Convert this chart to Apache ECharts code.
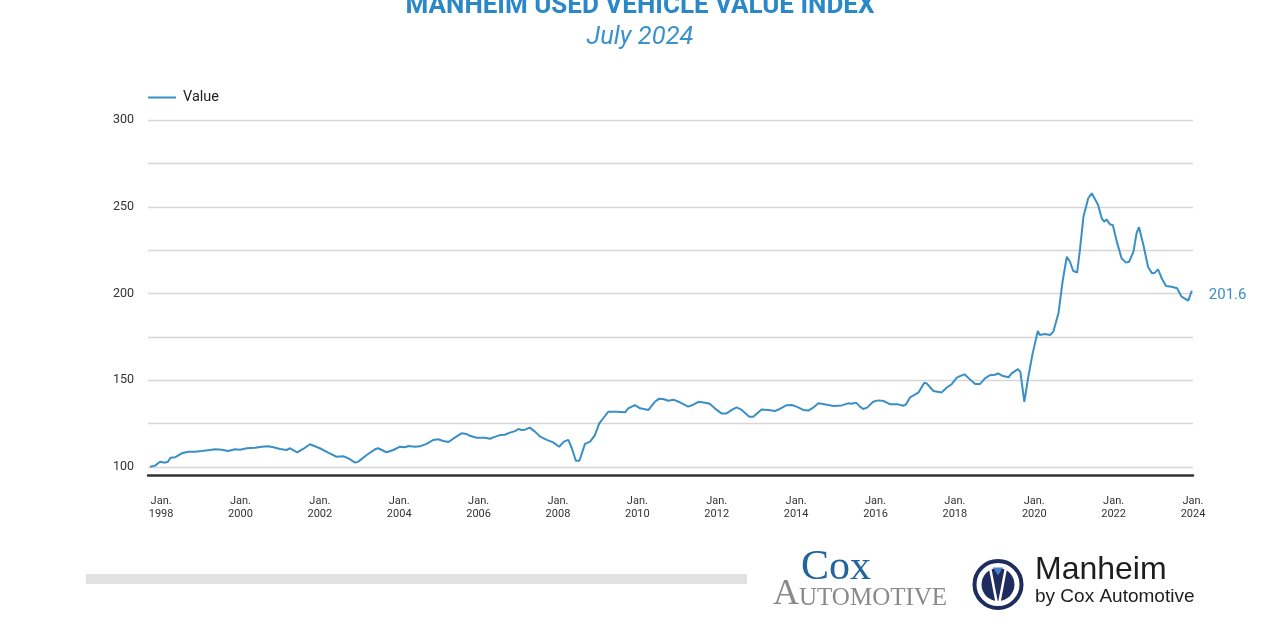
<!DOCTYPE html>
<html>
<head>
<meta charset="utf-8">
<script src="https://cdn.jsdelivr.net/npm/echarts@6/dist/echarts.min.js"></script>
<style>
html,body{margin:0;padding:0;background:#fff;}
#chart{width:1280px;height:640px;}
</style>
</head>
<body>
<div id="chart"></div>
<script>
// ---- data (x = position in years on the chart's time axis) ----
const years = [1997.72,1997.85,1997.97,1998.10,1998.17,1998.24,1998.35,1998.52,1998.69,1998.85,1998.90,1999.02,1999.23,1999.36,1999.53,1999.69,1999.86,1999.99,2000.16,2000.37,2000.53,2000.70,2000.83,2001.00,2001.16,2001.25,2001.43,2001.58,2001.75,2002.00,2002.21,2002.42,2002.59,2002.72,2002.89,2002.97,2003.18,2003.39,2003.47,2003.68,2003.85,2004.02,2004.15,2004.23,2004.40,2004.52,2004.69,2004.86,2004.98,2005.11,2005.24,2005.40,2005.57,2005.70,2005.78,2005.95,2006.16,2006.29,2006.37,2006.54,2006.66,2006.79,2006.92,2007.00,2007.09,2007.17,2007.29,2007.42,2007.55,2007.72,2007.88,2008.03,2008.15,2008.26,2008.35,2008.45,2008.54,2008.68,2008.81,2008.93,2009.04,2009.14,2009.27,2009.48,2009.69,2009.77,2009.94,2010.07,2010.28,2010.44,2010.55,2010.65,2010.78,2010.91,2011.07,2011.28,2011.41,2011.54,2011.75,2011.83,2012.00,2012.12,2012.25,2012.38,2012.50,2012.63,2012.82,2012.92,2013.13,2013.30,2013.47,2013.59,2013.76,2013.89,2014.01,2014.18,2014.31,2014.43,2014.56,2014.68,2014.94,2015.15,2015.31,2015.40,2015.51,2015.61,2015.69,2015.79,2015.94,2016.07,2016.21,2016.37,2016.57,2016.70,2016.77,2016.87,2017.08,2017.23,2017.29,2017.46,2017.67,2017.79,2017.92,2018.05,2018.13,2018.24,2018.38,2018.51,2018.63,2018.76,2018.88,2019.01,2019.09,2019.19,2019.35,2019.43,2019.59,2019.65,2019.75,2019.85,2019.96,2020.09,2020.14,2020.27,2020.40,2020.48,2020.61,2020.72,2020.82,2020.90,2020.98,2021.08,2021.15,2021.24,2021.36,2021.45,2021.50,2021.61,2021.70,2021.76,2021.82,2021.91,2021.98,2022.08,2022.20,2022.31,2022.39,2022.50,2022.58,2022.64,2022.75,2022.87,2022.97,2023.04,2023.12,2023.21,2023.32,2023.46,2023.60,2023.71,2023.88,2023.97];
const values = [100.2,100.8,103.0,102.5,103.0,105.4,105.6,107.9,108.8,108.8,107.9,109.2,109.8,110.2,110.0,109.2,110.2,110.0,110.8,111.1,111.7,111.9,111.4,110.4,109.8,110.8,108.5,110.4,113.1,110.8,108.3,105.9,106.2,105.0,102.5,103.1,106.9,110.2,110.8,108.5,109.8,111.7,111.4,112.1,111.7,111.9,113.3,115.6,116.0,115.0,114.4,116.9,119.4,119.0,118.0,116.9,116.9,116.3,117.1,118.4,118.6,119.8,120.7,121.9,121.3,121.5,122.7,120.4,117.5,115.6,114.2,111.7,114.6,115.6,110.8,103.6,103.6,113.3,114.6,118.4,125.2,128.1,131.9,131.9,131.5,133.8,135.7,133.8,132.9,137.6,139.4,139.2,138.2,138.8,137.3,134.8,135.9,137.6,136.9,136.3,132.9,130.9,130.9,132.9,134.4,132.9,129.0,129.0,133.2,132.9,132.3,133.5,135.6,135.7,134.8,132.9,132.5,134.2,136.7,136.3,135.2,135.5,136.7,136.5,137.1,134.8,133.4,134.2,137.6,138.4,138.0,136.1,136.1,135.3,136.1,140.1,142.8,148.6,148.2,143.8,143.0,145.7,147.7,151.5,152.4,153.4,150.5,147.8,147.8,151.1,152.9,153.2,153.9,152.6,151.7,154.0,156.4,154.8,137.5,152.0,165.5,178.4,176.1,176.7,176.1,178.0,188.6,207.8,221.2,218.3,213.1,212.0,225.0,244.3,254.9,257.8,257.4,251.0,243.3,241.4,242.7,239.8,239.5,229.9,220.3,217.8,218.3,224.1,235.0,238.2,228.0,215.1,211.6,212.0,213.9,208.8,204.3,203.9,203.0,198.2,195.9,201.6];
const tickYears = [1998,2000,2002,2004,2006,2008,2010,2012,2014,2016,2018,2020,2022,2024];
const seriesName = 'Value';
const titleText = 'MANHEIM USED VEHICLE VALUE INDEX';
const subtitleText = 'July 2024';

const lineColor = '#3a8fc5';
const navy = '#1e2c5e';
const points = years.map((y, i) => [y, values[i]]);

const chart = echarts.init(document.getElementById('chart'), null, {renderer: 'canvas'});
const cx = 998, cy = 584.5;
chart.setOption({
  animation: false,
  backgroundColor: '#ffffff',
  textStyle: {fontFamily: 'Roboto'},
  grid: {left: 148, right: 87, top: 120, bottom: 173, containLabel: false, outerBoundsMode: 'none'},
  legend: {
    show: true, left: 148, top: 90, padding: 0, itemWidth: 28, itemHeight: 2, itemGap: 10,
    icon: 'rect',
    textStyle: {fontSize: 14.5, color: '#222', fontFamily: 'Roboto', padding: [0, 0, 0, 2]},
    data: [seriesName]
  },
  xAxis: {
    type: 'value', min: 1997.67, max: 2024.0, position: 'bottom', offset: 8,
    axisLine: {show: true, lineStyle: {color: '#333', width: 2.5}},
    axisTick: {show: false},
    splitLine: {show: false},
    axisLabel: {
      customValues: tickYears, margin: 20, fontSize: 11, lineHeight: 12.5, color: '#333',
      fontFamily: 'Roboto', align: 'center',
      formatter: v => 'Jan.\n' + Math.round(v)
    }
  },
  yAxis: {
    type: 'value', min: 100, max: 300, interval: 25,
    axisLine: {show: false}, axisTick: {show: false},
    splitLine: {show: true, lineStyle: {color: '#d6d6d6', width: 1.3}},
    axisLabel: {
      margin: 14, fontSize: 12.5, color: '#333', fontFamily: 'Roboto',
      formatter: v => (v % 50 === 0 ? String(v) : '')
    }
  },
  series: [{
    name: seriesName, type: 'line', data: points, symbol: 'none', showSymbol: false,
    lineStyle: {color: lineColor, width: 2}, itemStyle: {color: lineColor},
    endLabel: {
      show: true, distance: 17, offset: [0, 5], color: lineColor, fontSize: 15, fontFamily: 'Roboto',
      formatter: p => p.value[1].toFixed(1)
    }
  }],
  graphic: [
    {type: 'text', x: 640, y: 6.8, style: {text: titleText, align: 'center', verticalAlign: 'middle', fill: '#2a88c8', font: 'bold 26px Roboto'}},
    {type: 'text', x: 640, y: 37.5, style: {text: subtitleText, align: 'center', verticalAlign: 'middle', fill: '#3a92cc', font: 'italic 25.5px Roboto'}},
    {type: 'rect', shape: {x: 86, y: 574, width: 661, height: 10}, style: {fill: '#e1e1e1'}},
    {type: 'text', x: 801, y: 568, style: {text: 'Cox', align: 'left', verticalAlign: 'middle', fill: '#24649d', font: '42px "Liberation Serif"'}},
    {type: 'text', x: 773, y: 595, style: {text: 'A', align: 'left', verticalAlign: 'middle', fill: '#8a8a8a', font: '36px "Liberation Serif"'}},
    {type: 'text', x: 799, y: 598.7, style: {text: 'UTOMOTIVE', align: 'left', verticalAlign: 'middle', fill: '#8a8a8a', font: '25px "Liberation Serif"'}},
    {type: 'circle', shape: {cx: cx, cy: cy, r: 23.5}, style: {fill: '#fff', stroke: navy, lineWidth: 4}},
    {type: 'circle', shape: {cx: cx, cy: cy, r: 16.5}, style: {fill: navy}},
    {type: 'polyline', shape: {points: [[cx - 8, cy - 17], [cx - 1.5, cy + 17]]}, style: {stroke: '#fff', lineWidth: 2.5}},
    {type: 'polyline', shape: {points: [[cx + 8, cy - 17], [cx + 1.5, cy + 17]]}, style: {stroke: '#fff', lineWidth: 2.5}},
    {type: 'polygon', shape: {points: [[cx - 5, cy - 17], [cx + 5, cy - 17], [cx, cy - 9]]}, style: {fill: '#4a7fc0'}},
    {type: 'text', x: 1035, y: 570, style: {text: 'Manheim', align: 'left', verticalAlign: 'middle', fill: '#1d1d1d', font: '32px "Liberation Sans"'}},
    {type: 'text', x: 1035, y: 597, style: {text: 'by Cox Automotive', align: 'left', verticalAlign: 'middle', fill: '#1d1d1d', font: '19px "Liberation Sans"'}}
  ]
});
</script>
</body>
</html>
